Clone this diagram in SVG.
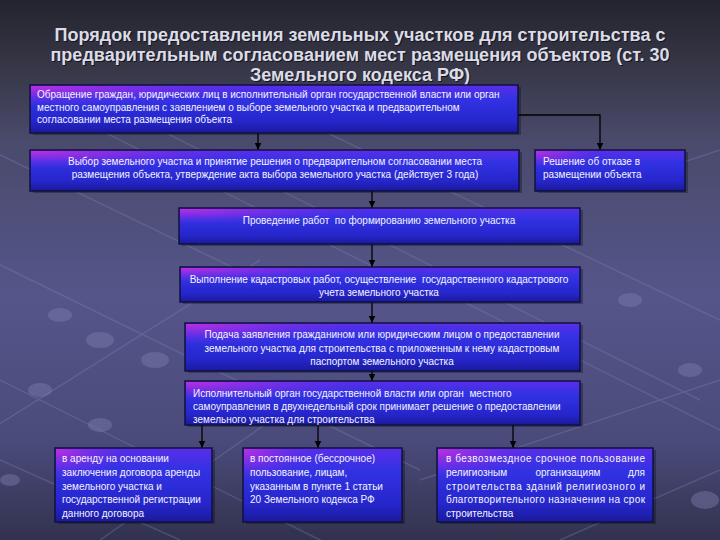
<svg xmlns="http://www.w3.org/2000/svg" width="720" height="540" viewBox="0 0 720 540">
<defs>
<linearGradient id="bg" x1="0" y1="0" x2="0" y2="1">
<stop offset="0" stop-color="#24242e"/>
<stop offset="0.12" stop-color="#363646"/>
<stop offset="0.26" stop-color="#4a4a6c"/>
<stop offset="0.55" stop-color="#55558a"/>
<stop offset="0.82" stop-color="#4a4a7a"/>
<stop offset="1" stop-color="#32324e"/>
</linearGradient>
<linearGradient id="boxv" x1="0" y1="0" x2="0" y2="1">
<stop offset="0" stop-color="#5a2ee8"/>
<stop offset="0.3" stop-color="#3232e4"/>
<stop offset="0.75" stop-color="#2626cc"/>
<stop offset="1" stop-color="#1a1a9c"/>
</linearGradient>
<radialGradient id="boxm" cx="0" cy="0" r="0.45">
<stop offset="0" stop-color="#c42ee0" stop-opacity="0.95"/>
<stop offset="0.5" stop-color="#9a2ee6" stop-opacity="0.5"/>
<stop offset="1" stop-color="#6a2ee8" stop-opacity="0"/>
</radialGradient>
<marker id="ah" markerWidth="8" markerHeight="8" refX="7" refY="4" orient="auto" markerUnits="userSpaceOnUse">
<path d="M0,0.8 L7,4 L0,7.2 Z" fill="#000"/>
</marker>
</defs>
<style>
.title{font-family:"Liberation Sans","Arial",sans-serif;font-weight:bold;font-size:18px;fill:#dcdce6;text-anchor:middle}
.tsh{fill:#15151c}
.b{stroke:#101040;stroke-width:1.5}
.bm{stroke:none}
.sh{fill:#000;opacity:0.28}
.t{font-family:"Liberation Sans","Arial",sans-serif;font-size:10px;fill:#f4f4ff;white-space:pre}
.c{text-anchor:middle}
.net{stroke:#8888b8;stroke-width:1.5;opacity:0.3;fill:none}
.nd{fill:#7c7cae;opacity:0.45}
.cn{stroke:#000;stroke-width:1.3;fill:none}
</style>
<rect width="720" height="540" fill="url(#bg)"/>
<g id="background-net">
<path class="net" d="M-10,150 L300,300 M40,100 L420,290 M-10,260 L420,470 M-20,370 L330,545 M120,110 L700,400 M300,120 L720,320 M460,300 L720,430 M0,460 L180,540 M420,480 L720,380 M560,540 L720,470 M-10,430 L260,260 M100,540 L300,400 M600,190 L720,150"/>
<ellipse class="nd" cx="60" cy="315" rx="12" ry="7"/>
<ellipse class="nd" cx="100" cy="340" rx="14" ry="8"/>
<ellipse class="nd" cx="155" cy="360" rx="14" ry="8"/>
<ellipse class="nd" cx="40" cy="390" rx="12" ry="7"/>
<ellipse class="nd" cx="100" cy="425" rx="12" ry="7"/>
<ellipse class="nd" cx="630" cy="300" rx="12" ry="7"/>
<ellipse class="nd" cx="690" cy="370" rx="12" ry="7"/>
<ellipse class="nd" cx="705" cy="500" rx="14" ry="9"/>
<ellipse class="nd" cx="10" cy="480" rx="10" ry="6"/>
</g>
<g id="title">
<text class="title tsh" x="361" y="42">Порядок предоставления земельных участков для строительства с</text>
<text class="title tsh" x="361" y="62">предварительным согласованием мест размещения объектов (ст. 30</text>
<text class="title tsh" x="361" y="82">Земельного кодекса РФ)</text>
<text class="title" x="360" y="41">Порядок предоставления земельных участков для строительства с</text>
<text class="title" x="360" y="61">предварительным согласованием мест размещения объектов (ст. 30</text>
<text class="title" x="360" y="81">Земельного кодекса РФ)</text>
</g>
<g id="connectors">
<line class="cn" x1="258" y1="133" x2="258" y2="150" marker-end="url(#ah)"/>
<polyline class="cn" points="518,115 600,115 600,150" marker-end="url(#ah)"/>
<line class="cn" x1="372" y1="191" x2="372" y2="208" marker-end="url(#ah)"/>
<line class="cn" x1="372" y1="244" x2="372" y2="267" marker-end="url(#ah)"/>
<line class="cn" x1="372" y1="302" x2="372" y2="323" marker-end="url(#ah)"/>
<line class="cn" x1="372" y1="371" x2="372" y2="381" marker-end="url(#ah)"/>
<line class="cn" x1="202" y1="425" x2="202" y2="448" marker-end="url(#ah)"/>
<line class="cn" x1="318" y1="425" x2="318" y2="448" marker-end="url(#ah)"/>
<line class="cn" x1="513" y1="425" x2="513" y2="448" marker-end="url(#ah)"/>
</g>
<g id="n1">
<rect class="sh" x="33" y="87" width="488" height="48"/>
<rect class="b" x="30" y="85" width="488" height="48" fill="url(#boxv)"/>
<rect class="bm" x="31" y="86" width="486" height="46" fill="url(#boxm)"/>
<text class="t" x="37" y="98">Обращение граждан, юридических лиц в исполнительный орган государственной власти или орган</text>
<text class="t" x="37" y="110.5">местного самоуправления с заявлением о выборе земельного участка и предварительном</text>
<text class="t" x="37" y="123">согласовании места размещения объекта</text>
</g>
<g id="n2">
<rect class="sh" x="33" y="152" width="489" height="41"/>
<rect class="b" x="30" y="150" width="489" height="41" fill="url(#boxv)"/>
<rect class="bm" x="31" y="151" width="487" height="39" fill="url(#boxm)"/>
<text class="t c" x="275" y="165">Выбор земельного участка и принятие решения о предварительном согласовании места</text>
<text class="t c" x="275" y="177.5">размещения объекта, утверждение акта выбора земельного участка (действует 3 года)</text>
</g>
<g id="n3">
<rect class="sh" x="538" y="152" width="150" height="41"/>
<rect class="b" x="535" y="150" width="150" height="41" fill="url(#boxv)"/>
<rect class="bm" x="536" y="151" width="148" height="39" fill="url(#boxm)"/>
<text class="t" x="543" y="165">Решение об отказе в</text>
<text class="t" x="543" y="177.5">размещении объекта</text>
</g>
<g id="n4">
<rect class="sh" x="182" y="210" width="401" height="36"/>
<rect class="b" x="179" y="208" width="401" height="36" fill="url(#boxv)"/>
<rect class="bm" x="180" y="209" width="399" height="34" fill="url(#boxm)"/>
<text class="t c" x="379" y="224" xml:space="preserve">Проведение работ  по формированию земельного участка</text>
</g>
<g id="n5">
<rect class="sh" x="183" y="269" width="400" height="35"/>
<rect class="b" x="180" y="267" width="400" height="35" fill="url(#boxv)"/>
<rect class="bm" x="181" y="268" width="398" height="33" fill="url(#boxm)"/>
<text class="t c" x="379" y="283" xml:space="preserve">Выполнение кадастровых работ, осуществление  государственного кадастрового</text>
<text class="t c" x="379" y="296">учета земельного участка</text>
</g>
<g id="n6">
<rect class="sh" x="188" y="325" width="395" height="48"/>
<rect class="b" x="185" y="323" width="395" height="48" fill="url(#boxv)"/>
<rect class="bm" x="186" y="324" width="393" height="46" fill="url(#boxm)"/>
<text class="t c" x="382" y="338">Подача заявления гражданином или юридическим лицом о предоставлении</text>
<text class="t c" x="382" y="351.5">земельного участка для строительства с приложенным к нему кадастровым</text>
<text class="t c" x="382" y="365">паспортом земельного участка</text>
</g>
<g id="n7">
<rect class="sh" x="188" y="383" width="395" height="44"/>
<rect class="b" x="185" y="381" width="395" height="44" fill="url(#boxv)"/>
<rect class="bm" x="186" y="382" width="393" height="42" fill="url(#boxm)"/>
<text class="t" x="193" y="397" xml:space="preserve">Исполнительный орган государственной власти или орган  местного</text>
<text class="t" x="193" y="410">самоуправления в двухнедельный срок принимает решение о предоставлении</text>
<text class="t" x="193" y="422.5">земельного участка для строительства</text>
</g>
<g id="n8">
<rect class="sh" x="58" y="450" width="157" height="74"/>
<rect class="b" x="55" y="448" width="157" height="74" fill="url(#boxv)"/>
<rect class="bm" x="56" y="449" width="155" height="72" fill="url(#boxm)"/>
<text class="t" x="62" y="462">в аренду на основании</text>
<text class="t" x="62" y="476">заключения договора аренды</text>
<text class="t" x="62" y="489.5">земельного участка и</text>
<text class="t" x="62" y="503">государственной регистрации</text>
<text class="t" x="62" y="516.5">данного договора</text>
</g>
<g id="n9">
<rect class="sh" x="246" y="450" width="159" height="74"/>
<rect class="b" x="243" y="448" width="159" height="74" fill="url(#boxv)"/>
<rect class="bm" x="244" y="449" width="157" height="72" fill="url(#boxm)"/>
<text class="t" x="250" y="462">в постоянное (бессрочное)</text>
<text class="t" x="250" y="476">пользование, лицам,</text>
<text class="t" x="250" y="489.5">указанным в пункте 1 статьи</text>
<text class="t" x="250" y="503">20 Земельного кодекса РФ</text>
</g>
<g id="n10">
<rect class="sh" x="440" y="450" width="216" height="74"/>
<rect class="b" x="437" y="448" width="216" height="74" fill="url(#boxv)"/>
<rect class="bm" x="438" y="449" width="214" height="72" fill="url(#boxm)"/>
<text class="t" x="446" y="462" textLength="199" lengthAdjust="spacing">в безвозмездное срочное пользование</text>
<text class="t" x="446" y="476">религиозным</text>
<text class="t c" x="568" y="476">организациям</text>
<text class="t" x="645" y="476" text-anchor="end">для</text>
<text class="t" x="446" y="489.5" textLength="199" lengthAdjust="spacing">строительства зданий религиозного и</text>
<text class="t" x="446" y="503" textLength="199" lengthAdjust="spacing">благотворительного назначения на срок</text>
<text class="t" x="446" y="516.5">строительства</text>
</g>
</svg>
